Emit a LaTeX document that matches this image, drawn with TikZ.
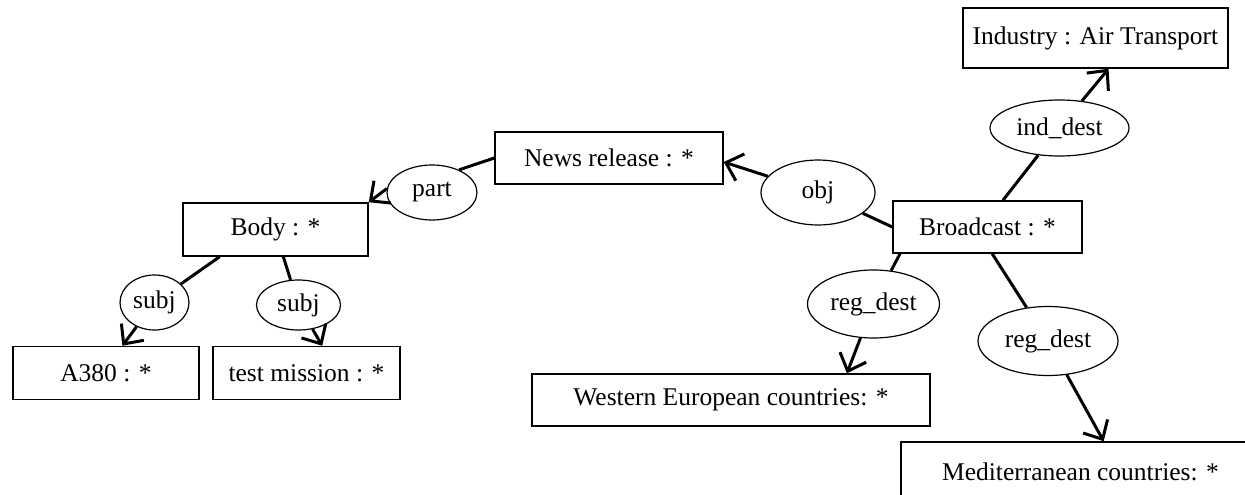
\documentclass[tikz,border=0pt]{standalone}
\usepackage{fontspec}
\setmainfont{Liberation Serif}
\usetikzlibrary{arrows.meta,shapes.geometric,calc}
\begin{document}
\begin{tikzpicture}[x=1pt,y=-1pt,
  every node/.style={font=\fontsize{25.5}{30}\selectfont},
  concept/.style={draw, line width=1.5pt, rectangle, inner sep=0pt},
  relation/.style={draw, line width=1.2pt, ellipse, inner sep=0pt},
  link/.style={line width=3pt},
  arc/.style={line width=3pt, -{Straight Barb[length=15pt,width=28pt]}}]
\useasboundingbox (0,0) rectangle (1245,495);
\clip (0,0) rectangle (1245,495);
% concept boxes
\node[concept, minimum width=265pt, minimum height=60pt] (ind) at (1095.5,38) {Industry : Air Transport};
\node[concept, minimum width=228pt, minimum height=52pt] (news) at (609,158) {News release : *};
\node[concept, minimum width=189pt, minimum height=52pt] (bc) at (987.5,227) {Broadcast : *};
\node[concept, minimum width=185pt, minimum height=53pt] (body) at (275.5,229.5) {Body : *};
\node[concept, minimum width=186pt, minimum height=53pt] (a380) at (106,373) {A380 : *};
\node[concept, minimum width=187pt, minimum height=53pt] (test) at (306.5,373) {test mission : *};
\node[concept, minimum width=398pt, minimum height=52pt] (west) at (731,400) {Western European countries: *};
\node[concept, minimum width=359pt, minimum height=60pt] (med) at (1080.5,472) {Mediterranean countries: *};
% relation ellipses
\node[relation, minimum width=139pt, minimum height=56pt] (inddest) at (1059.5,128) {ind\_dest};
\node[relation, minimum width=114pt, minimum height=65pt] (obj) at (818,192.5) {obj};
\node[relation, minimum width=90pt, minimum height=55pt] (part) at (432,192.5) {part};
\node[relation, minimum width=69pt, minimum height=55pt] (subjl) at (154.5,302.5) {subj};
\node[relation, minimum width=84pt, minimum height=50pt] (subjr) at (298.5,305) {subj};
\node[relation, minimum width=132pt, minimum height=68pt] (regl) at (873.5,304) {reg\_dest};
\node[relation, minimum width=140pt, minimum height=69pt] (regr) at (1048,341) {reg\_dest};
% connectors
\draw[link] (bc.60) -- (inddest);
\draw[arc] (inddest) -- (ind.-67);
\draw[link] (bc.west) -- (obj);
\draw[arc] (obj) -- (news.-2);
\draw[link] (news.west) -- (part.40);
\draw[arc] (part.175) -- (body.north east);
\draw[link] (body.-154) -- (subjl);
\draw[arc] (subjl) -- (a380.59);
\draw[link] (body.-74) -- (subjr);
\draw[arc] (subjr) -- (test.60);
\draw[link] (bc.-163) -- (regl);
\draw[arc] (regl) -- (west.13);
\draw[link] (bc.-80) -- (regr);
\draw[arc] (regr) -- (med.53);
\end{tikzpicture}
\end{document}
